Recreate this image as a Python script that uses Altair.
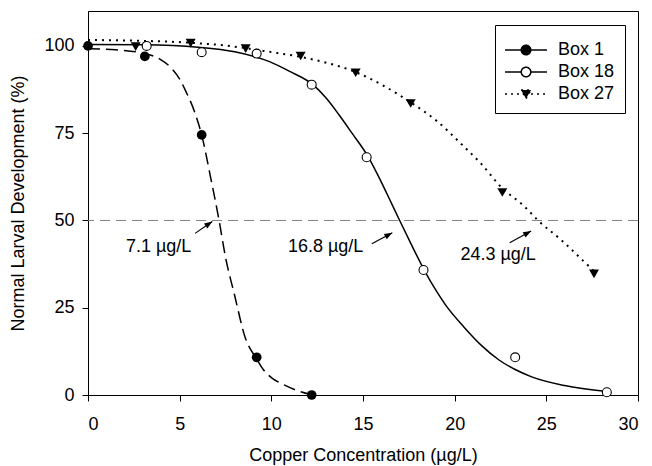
import altair as alt
import pandas as pd

FONT = "Liberation Sans"
series_names = ["Box 1", "Box 18", "Box 27"]

# measured points
box1_x = [0.0, 3.1, 6.2, 9.2, 12.2]
box1_y = [100.0, 97.0, 74.5, 10.8, 0.0]
box18_x = [3.2, 6.2, 9.2, 12.2, 15.2, 18.3, 23.3, 28.3]
box18_y = [100.0, 98.2, 97.8, 88.9, 68.1, 35.8, 10.8, 0.8]
box27_x = [2.6, 5.6, 8.6, 11.6, 14.6, 17.6, 22.6, 27.6]
box27_y = [99.8, 100.8, 99.2, 97.1, 92.3, 83.5, 58.0, 34.7]

# fitted curves
fit1_x = [0.0, 1.5, 3.0, 3.9, 4.55, 5.0, 5.3, 5.8, 6.2, 6.7, 7.15, 7.5, 8.0, 8.56, 9.2, 9.6, 10.0, 10.7, 11.4, 12.1]
fit1_y = [99.2, 98.9, 97.9, 96.3, 93.6, 90.5, 87.4, 81.3, 74.5, 62.0, 50.0, 39.5, 28.5, 16.7, 10.3, 7.0, 5.0, 2.9, 1.3, 0.2]
fit18_x = [0.0, 3.0, 6.0, 8.0, 9.9, 11.0, 12.27, 13.0, 13.7, 14.4, 15.3, 16.0, 16.5, 17.0, 17.6, 18.34, 19.0, 19.5, 20.5, 21.5, 22.4, 23.3, 24.2, 26.0, 28.3]
fit18_y = [100.4, 100.3, 99.6, 98.3, 95.5, 92.7, 88.9, 85.0, 80.2, 75.0, 68.1, 61.0, 55.5, 50.0, 43.5, 35.8, 29.8, 25.8, 19.5, 14.0, 10.1, 7.3, 5.2, 2.7, 1.0]
fit27_x = [0.0, 2.6, 5.6, 7.5, 9.9, 11.64, 14.64, 17.64, 19.0, 20.46, 21.4, 22.64, 23.73, 24.55, 25.9, 27.0, 27.64]
fit27_y = [101.7, 101.5, 100.9, 100.1, 98.3, 96.8, 92.4, 83.7, 78.6, 71.4, 66.5, 59.0, 54.4, 50.0, 44.0, 38.5, 35.3]

# EC50 annotations
ec50_text = ["7.1 µg/L", "16.8 µg/L", "24.3 µg/L"]
text_x = [3.85, 12.96, 22.37]
text_y = [42.4, 42.4, 40.1]
arrow_x0 = [5.84, 15.48, 23.0]
arrow_y0 = [46.3, 43.3, 43.6]
arrow_x1 = [6.78, 16.6, 24.17]
arrow_y1 = [49.7, 46.5, 47.0]
arrow_angle = [325.5, 331.3, 330.9]

x_ticks = [0, 5, 10, 15, 20, 25, 30]
y_ticks = [0, 25, 50, 75, 100]

def frame(xs, ys, name):
    return pd.DataFrame({"x": xs, "y": ys, "series": name})

pts = pd.concat([frame(box1_x, box1_y, "Box 1"), frame(box18_x, box18_y, "Box 18"),
                 frame(box27_x, box27_y, "Box 27")], ignore_index=True)
fits = pd.concat([frame(fit1_x, fit1_y, "Box 1"), frame(fit18_x, fit18_y, "Box 18"),
                  frame(fit27_x, fit27_y, "Box 27")], ignore_index=True)
ann = pd.DataFrame({"text": ec50_text, "tx": text_x, "ty": text_y,
                    "x0": arrow_x0, "y0": arrow_y0, "x1": arrow_x1, "y1": arrow_y1,
                    "angle": arrow_angle})

X = alt.X("x:Q", scale=alt.Scale(domain=[0, 30], nice=False, zero=False),
          axis=alt.Axis(values=x_ticks, title="Copper Concentration (µg/L)",
                        titleX=275, titleY=60, titleBaseline="middle", labelPadding=14))
Y = alt.Y("y:Q", scale=alt.Scale(domain=[0, 110], nice=False),
          axis=alt.Axis(values=y_ticks, title="Normal Larval Development (%)",
                        titleX=-70, titleY=192, titleBaseline="middle", labelPadding=8))

base_pts = alt.Chart(pts)
base_fit = alt.Chart(fits)

ref = alt.Chart(pd.DataFrame({"y": [50]})).mark_rule(
    color="#808080", strokeDash=[10, 6], strokeWidth=1).encode(y=Y)

line1 = base_fit.transform_filter(alt.datum.series == "Box 1").mark_line(
    color="black", strokeWidth=1.5, strokeDash=[12, 6], interpolate="monotone").encode(x=X, y=Y)
line18 = base_fit.transform_filter(alt.datum.series == "Box 18").mark_line(
    color="black", strokeWidth=1.5, interpolate="monotone").encode(x=X, y=Y)
line27 = base_fit.transform_filter(alt.datum.series == "Box 27").mark_line(
    color="black", strokeWidth=2, strokeDash=[2, 5], interpolate="monotone").encode(x=X, y=Y)

p1 = base_pts.transform_filter(alt.datum.series == "Box 1").mark_point(
    shape="circle", filled=True, fill="black", size=95, opacity=1).encode(x=X, y=Y)
p18 = base_pts.transform_filter(alt.datum.series == "Box 18").mark_point(
    shape="circle", filled=True, fill="white", stroke="black", strokeWidth=1.1,
    size=80, opacity=1).encode(x=X, y=Y)
p27 = base_pts.transform_filter(alt.datum.series == "Box 27").mark_point(
    shape="triangle-down", filled=True, fill="black", size=100, opacity=1).encode(x=X, y=Y)

# legend symbols: unit = 9 px (symbolSize 324)
circ = "M-0.53,0A0.53,0.53 0 1,1 0.53,0A0.53,0.53 0 1,1 -0.53,0Z"
leg_shapes = [
    "M-2.33,0L-0.53,0M0.53,0L2.33,0" + circ,
    "M-2.33,0L-0.53,0M0.53,0L2.33,0" + circ,
    "M-2.33,0L-0.56,0M0.56,0L2.33,0M-0.56,-0.45L0.56,-0.45L0,0.5Z",
]
legend = alt.Legend(title=" ", titleFontSize=5, titlePadding=0, orient="none",
                    legendX=407, legendY=14, padding=10,
                    strokeColor="black", fillColor="white", symbolSize=324,
                    symbolStrokeWidth=1.5, symbolOpacity=1, symbolOffset=11,
                    labelFont=FONT, labelFontSize=18, labelColor="black", labelOffset=22,
                    rowPadding=3, labelExpr="datum.label + '\u00a0\u00a0\u00a0\u00a0'")
leg = base_pts.mark_point(filled=True, opacity=0, strokeWidth=1.5).encode(
    x=X, y=Y,
    shape=alt.Shape("series:N", scale=alt.Scale(domain=series_names, range=leg_shapes), legend=legend),
    fill=alt.Fill("series:N", scale=alt.Scale(domain=series_names, range=["black", "white", "black"]), legend=legend),
    stroke=alt.Stroke("series:N", scale=alt.Scale(domain=series_names, range=["black", "black", "black"]), legend=legend),
    strokeDash=alt.StrokeDash("series:N", scale=alt.Scale(domain=series_names, range=[[1, 0], [1, 0], [2, 4]]), legend=legend),
)

arrows = alt.Chart(ann).mark_rule(color="black", strokeWidth=1.2).encode(
    x=alt.X("x0:Q"), y=alt.Y("y0:Q"), x2="x1:Q", y2="y1:Q")
heads = alt.Chart(ann).mark_point(shape="M0,0L-2,-0.75L-2,0.75Z", filled=True, fill="black",
                                  size=64, opacity=1).encode(
    x=alt.X("x1:Q"), y=alt.Y("y1:Q"), angle=alt.Angle("angle:Q", scale=None))
texts = alt.Chart(ann).mark_text(font=FONT, fontSize=18, color="black", baseline="middle",
                                 align="center").encode(
    x=alt.X("tx:Q"), y=alt.Y("ty:Q"), text="text:N")

chart = alt.layer(leg, ref, line1, line18, line27, p1, p18, p27, arrows, heads, texts).properties(
    width=550, height=384, padding={"left": 80, "top": 3, "right": 6, "bottom": 71},
    autosize=alt.AutoSizeParams(type="none"),
).configure_view(stroke="black", strokeWidth=1).configure_axis(
    domainColor="black", tickColor="black", labelColor="black", titleColor="black",
    labelFont=FONT, titleFont=FONT, labelFontSize=18, titleFontSize=18,
    titleFontWeight="normal", grid=False, tickSize=6, domainWidth=1, tickWidth=1,
)

chart.save("out.html", embed_options={"renderer": "svg", "actions": False})
